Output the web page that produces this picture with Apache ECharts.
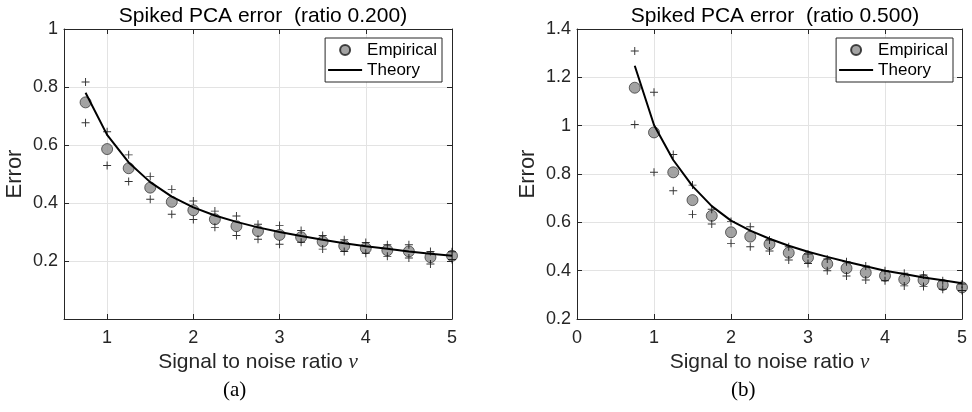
<!DOCTYPE html>
<html>
<head>
<meta charset="utf-8">
<script src="https://cdn.jsdelivr.net/npm/echarts@6/dist/echarts.min.js"></script>
<style>
html,body{margin:0;padding:0;background:#fff;}
#c{width:972px;height:412px;}
</style>
</head>
<body>
<div id="c"></div>
<script>
// ---- data ----
var snr = [0.75,1,1.25,1.5,1.75,2,2.25,2.5,2.75,3,3.25,3.5,3.75,4,4.25,4.5,4.75,5];

// panel (a): ratio 0.200
var empA    = [0.747,0.586,0.520,0.453,0.404,0.375,0.344,0.320,0.303,0.290,0.282,0.267,0.252,0.244,0.237,0.233,0.213,0.218];
var upperA  = [0.817,0.646,0.566,0.491,0.447,0.407,0.372,0.355,0.327,0.322,0.305,0.288,0.273,0.264,0.256,0.256,0.233,0.232];
var lowerA  = [0.677,0.529,0.474,0.413,0.361,0.343,0.316,0.288,0.275,0.258,0.265,0.241,0.233,0.227,0.216,0.210,0.190,0.205];
var theoryA = [0.780,0.635,0.540,0.472,0.422,0.385,0.357,0.335,0.316,0.300,0.286,0.273,0.261,0.251,0.242,0.233,0.225,0.218];

// panel (b): ratio 0.500
var empB    = [1.157,0.972,0.807,0.692,0.627,0.559,0.541,0.510,0.474,0.454,0.428,0.410,0.392,0.379,0.364,0.361,0.341,0.331];
var upperB  = [1.309,1.138,0.881,0.754,0.654,0.603,0.582,0.527,0.499,0.469,0.448,0.437,0.419,0.400,0.389,0.382,0.358,0.345];
var lowerB  = [1.005,0.807,0.731,0.633,0.593,0.513,0.499,0.481,0.444,0.430,0.400,0.378,0.361,0.358,0.337,0.334,0.323,0.318];
var theoryB = [1.248,1.003,0.858,0.750,0.667,0.607,0.566,0.532,0.503,0.478,0.457,0.437,0.418,0.400,0.386,0.372,0.360,0.348];

var titles = ['Spiked PCA error  (ratio 0.200)', 'Spiked PCA error  (ratio 0.500)'];
var captions = ['(a)', '(b)'];
var xTicksA = [1,2,3,4,5];
var legendNames = ['Empirical', 'Theory'];

// ---- styling ----
var FONT = '"Liberation Sans", Arial, Helvetica, sans-serif';
var SERIF = '"Liberation Serif", "Times New Roman", serif';
var AX = '#262626';
var GRIDC = '#e3e3e3';
var PLUS = 'path://M0,4.4H10V5.6H0Z M4.4,0H5.6V10H4.4Z';
var LINEICON = 'path://M0,0H34V2.2H0Z';

function pairs(xs, ys){ return xs.map(function(x,i){ return [x, ys[i]]; }); }

function xAxisCfg(grid, min, max, interval, custom, top){
  var a = {
    type:'value', gridIndex:grid, min:min, max:max, position: top?'top':'bottom',
    axisLine:{show:true, onZero:false, lineStyle:{color:AX, width:1}},
    axisTick:{show:true, inside:true, length:5, lineStyle:{color:AX, width:1}},
    axisLabel:{show:!top, color:AX, fontSize:18, fontFamily:FONT, margin:10},
    splitLine:{show:!top, lineStyle:{color:GRIDC, width:1}}
  };
  if (interval) a.interval = interval;
  if (custom){ a.axisTick.customValues = custom; a.axisLabel.customValues = custom; }
  if (!top){
    a.name = 'Signal to noise ratio {it|ν}';
    a.nameLocation = 'middle';
    a.nameGap = 30;
    a.nameTextStyle = {color:AX, fontSize:21, fontFamily:FONT,
      rich:{it:{fontFamily:SERIF, fontStyle:'italic', fontSize:21, color:AX}}};
  }
  return a;
}
function yAxisCfg(grid, min, max, interval, right, hideZero){
  var a = {
    type:'value', gridIndex:grid, min:min, max:max, interval:interval, position: right?'right':'left',
    axisLine:{show:true, onZero:false, lineStyle:{color:AX, width:1}},
    axisTick:{show:true, inside:true, length:5, lineStyle:{color:AX, width:1}},
    axisLabel:{show:!right, color:AX, fontSize:18, fontFamily:FONT, margin:6,
      formatter:function(v){ return (hideZero && Math.abs(v)<1e-9) ? '' : String(+v.toFixed(2)); }},
    splitLine:{show:!right, lineStyle:{color:GRIDC, width:1}}
  };
  if (!right){
    a.name = 'Error';
    a.nameLocation = 'middle';
    a.nameGap = 38;
    a.nameTextStyle = {color:AX, fontSize:22, fontFamily:FONT};
  }
  return a;
}

function panelSeries(k, emp, up, lo, th){
  var xi = 2*k, yi = 2*k;
  return [
    {name:'Empirical', type:'scatter', xAxisIndex:xi, yAxisIndex:yi, data:pairs(snr, emp),
     symbol:'circle', symbolSize:11, z:2,
     itemStyle:{color:'#8c8c8c', borderColor:'#1a1a1a', borderWidth:0.8}},
    {name:'upper'+k, type:'scatter', xAxisIndex:xi, yAxisIndex:yi, data:pairs(snr, up),
     symbol:PLUS, symbolSize:8, z:3, itemStyle:{color:'#000'}},
    {name:'lower'+k, type:'scatter', xAxisIndex:xi, yAxisIndex:yi, data:pairs(snr, lo),
     symbol:PLUS, symbolSize:8, z:3, itemStyle:{color:'#000'}},
    {name:'Theory', type:'line', xAxisIndex:xi, yAxisIndex:yi, data:pairs(snr, th),
     symbol:'none', z:4, lineStyle:{color:'#000', width:2}, itemStyle:{color:'#000'}}
  ];
}

function legendCfg(right){
  return {
    data:[{name:legendNames[0]}, {name:legendNames[1], icon:LINEICON, itemStyle:{color:'#000', borderWidth:0}}],
    orient:'vertical', right:right, top:38,
    itemWidth:34, itemHeight:10, itemGap:0,
    backgroundColor:'#fff', borderColor:AX, borderWidth:1, borderRadius:0,
    padding:[2,5,2,3],
    textStyle:{color:'#000', fontSize:17, fontFamily:FONT, lineHeight:20},
    selectedMode:false
  };
}

var chart = echarts.init(document.getElementById('c'), null, {renderer:'canvas'});
chart.setOption({
  backgroundColor:'#fff',
  animation:false,
  textStyle:{fontFamily:FONT},
  title:[
    {text:titles[0], left:258, top:1, textAlign:'center', textStyle:{fontSize:21, fontWeight:'normal', color:'#000', fontFamily:FONT}},
    {text:titles[1], left:770, top:1, textAlign:'center', textStyle:{fontSize:21, fontWeight:'normal', color:'#000', fontFamily:FONT}}
  ],
  legend:[legendCfg(530), legendCfg(19)],
  grid:[
    {left:64, right:520, top:29, bottom:93},
    {left:577, right:10, top:29, bottom:93}
  ],
  xAxis:[
    xAxisCfg(0, 0.5, 5, null, xTicksA, false),
    xAxisCfg(0, 0.5, 5, null, xTicksA, true),
    xAxisCfg(1, 0, 5, 1, null, false),
    xAxisCfg(1, 0, 5, 1, null, true)
  ],
  yAxis:[
    yAxisCfg(0, 0, 1, 0.2, false, true),
    yAxisCfg(0, 0, 1, 0.2, true, true),
    yAxisCfg(1, 0.2, 1.4, 0.2, false, false),
    yAxisCfg(1, 0.2, 1.4, 0.2, true, false)
  ],
  graphic:[
    {type:'text', left:237-14, top:380, style:{text:captions[0], fontSize:21, fill:'#000', fontFamily:SERIF}},
    {type:'text', left:745-14, top:380, style:{text:captions[1], fontSize:21, fill:'#000', fontFamily:SERIF}}
  ],
  series: panelSeries(0, empA, upperA, lowerA, theoryA).concat(panelSeries(1, empB, upperB, lowerB, theoryB))
});
</script>
</body>
</html>
